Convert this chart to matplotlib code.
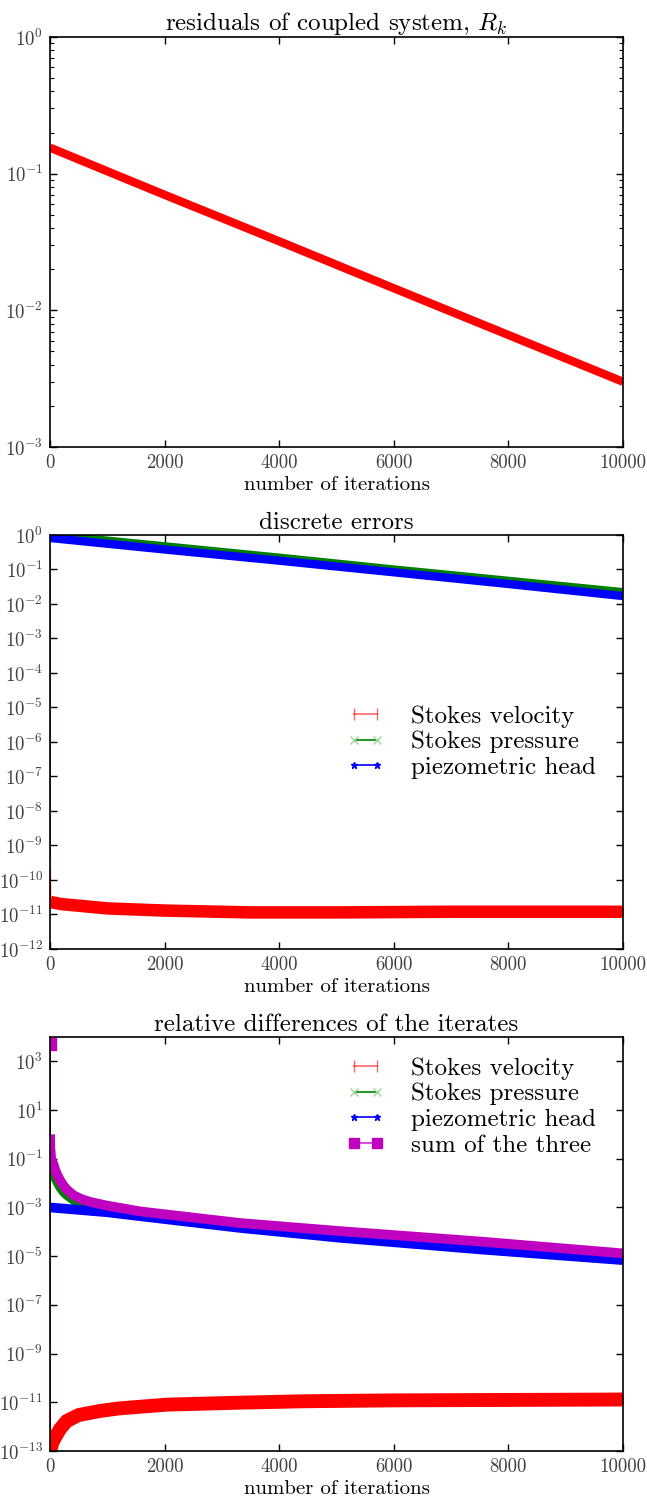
import matplotlib
matplotlib.use("Agg")
import matplotlib.pyplot as plt
from matplotlib.lines import Line2D
from matplotlib.ticker import LogLocator

plt.rcParams['font.family'] = 'serif'
plt.rcParams['font.serif'] = ['cmr10']
plt.rcParams['mathtext.fontset'] = 'cm'
plt.rcParams['axes.formatter.use_mathtext'] = True
plt.rcParams['axes.unicode_minus'] = False

# ---------------- data ----------------
iter_ticks = [0, 2000, 4000, 6000, 8000, 10000]

# panel 1: residuals of coupled system
res_x = [0, 2000, 4000, 6000, 8000, 10000]
res_val = [0.155, 0.070, 0.032, 0.0145, 0.0066, 0.0030]

# panel 2: discrete errors
err_vel_x = [0, 1, 2, 3, 5, 10, 200, 500, 1000, 2000, 3500, 5000, 7000, 10000]
err_vel = [0.3, 1e-2, 1e-5, 1e-8, 3e-10, 2.3e-11, 2.0e-11, 1.8e-11, 1.5e-11,
           1.3e-11, 1.15e-11, 1.15e-11, 1.2e-11, 1.2e-11]
err_x = [0, 2000, 4000, 6000, 8000, 10000]
err_pres = [1.0, 0.47, 0.22, 0.10, 0.047, 0.022]
err_head = [0.82, 0.38, 0.18, 0.083, 0.038, 0.017]

# panel 3: relative differences of the iterates
dif_vel_x = [0, 1, 2, 3, 5, 40, 100, 175, 291, 500, 873, 1200, 2037, 3200,
             4400, 6000, 8000, 10000]
dif_vel = [5e3, 1e-1, 1e-5, 1e-9, 1e-13, 2.2e-13, 4.0e-13, 8.0e-13, 1.7e-12,
           3.0e-12, 4.4e-12, 5.6e-12, 8.0e-12, 9.5e-12, 1.1e-11, 1.2e-11,
           1.25e-11, 1.3e-11]
dif_x = [0, 1, 5, 20, 60, 100, 175, 233, 291, 407, 550, 698, 989, 1571, 3316,
         5061, 7504, 10000]
dif_sum = [5e3, 1.0, 0.3, 0.1, 0.06, 0.03, 1.3e-2, 8e-3, 5.5e-3, 3.2e-3, 2.2e-3,
           1.7e-3, 1.2e-3, 6.9e-4, 2.3e-4, 1.07e-4, 4.0e-5, 1.3e-5]
dif_pres = [3.0, 0.3, 0.1, 0.04, 0.03, 0.015, 7e-3, 4.5e-3, 3.3e-3, 2.1e-3,
            1.5e-3, 1.2e-3, 8.5e-4, 4.9e-4, 1.65e-4, 7.6e-5, 2.9e-5, 9.5e-6]
dif_head_x = [0, 989, 1571, 3316, 5061, 7504, 10000]
dif_head = [1.0e-3, 6.4e-4, 4.4e-4, 1.45e-4, 5.7e-5, 1.9e-5, 6.9e-6]

labels3 = ['Stokes velocity', 'Stokes pressure', 'piezometric head']
label_sum = 'sum of the three'

# ---------------- figure ----------------
W, H = 647, 1499
fig = plt.figure(figsize=(W / 100, H / 100), dpi=100)

def add_ax(top_px, bot_px, left_px=50, right_px=623):
    return fig.add_axes([left_px / W, 1 - bot_px / H, (right_px - left_px) / W,
                         (bot_px - top_px) / H])

ax1 = add_ax(37, 447)
ax2 = add_ax(535, 949)
ax3 = add_ax(1037, 1451)

def style(ax):
    ax.set_yscale('log')
    ax.set_xlim(0, 10000)
    ax.set_xticks(iter_ticks)
    ax.set_xticklabels([str(t) for t in iter_ticks])
    ax.tick_params(which='both', direction='in', top=True, right=True,
                   labelsize=13.5, labelcolor='0.25', pad=5)
    ax.tick_params(which='major', length=5, width=1)
    ax.tick_params(which='minor', length=3, width=0.8)
    ax.set_xlabel('number of iterations', fontsize=15, labelpad=3)
    for s in ax.spines.values():
        s.set_linewidth(1.2)

cR, cG, cB, cM = (1, 0, 0), (0, 0.5, 0), (0, 0, 1), (0.75, 0, 0.75)
pink = (1, 0.6, 0.6)

# panel 1
ax1.plot(res_x, res_val, color=cR, lw=6, solid_capstyle='butt')
style(ax1)
ax1.set_ylim(1e-3, 1)
ax1.set_title('residuals of coupled system, $R_k$', fontsize=18, pad=4)

# panel 2
ax2.plot(err_vel_x, err_vel, color=cR, lw=1, marker='|', ms=7, mec=pink)
ax2.plot(err_vel_x[5:], err_vel[5:], color=cR, lw=9, solid_capstyle='butt')
ax2.plot(err_x, err_pres, color=cG, lw=6, solid_capstyle='butt')
ax2.plot(err_x, err_head, color=cB, lw=6, solid_capstyle='butt')
style(ax2)
ax2.set_ylim(1e-12, 1)
ax2.yaxis.set_major_locator(LogLocator(base=10, numticks=20))
ax2.yaxis.set_minor_locator(LogLocator(base=10, subs=[], numticks=20))
ax2.set_title('discrete errors', fontsize=18, pad=4)

# panel 3
ax3.plot(dif_vel_x, dif_vel, color=cR, lw=1, marker='|', ms=7, mec=pink)
ax3.plot(dif_vel_x[4:], dif_vel[4:], color=cR, lw=10, solid_capstyle='butt')
ax3.plot(dif_x, dif_pres, color=cG, lw=1)
ax3.plot(dif_x[1:], dif_pres[1:], color=cG, lw=7, solid_capstyle='butt')
ax3.plot(dif_head_x, dif_head, color=cB, lw=7, solid_capstyle='butt')
ax3.plot(dif_x, dif_sum, color=cM, lw=1)
ax3.plot(dif_x[:1], dif_sum[:1], color=cM, marker='s', ms=8, ls='none')
ax3.plot(dif_x[1:], dif_sum[1:], color=cM, lw=7, solid_capstyle='butt')
style(ax3)
ax3.set_ylim(1e-13, 1e4)
ax3.set_title('relative differences of the iterates', fontsize=18, pad=4)

def handles(n):
    h = [Line2D([], [], color=cR, alpha=0.6, marker='|', ms=9, lw=1.2),
         Line2D([], [], color=cG, marker='x', ms=6, lw=1.2, mec=(0.6, 0.85, 0.6)),
         Line2D([], [], color=cB, marker='*', ms=5, lw=1.2),
         Line2D([], [], color=(0.85, 0.3, 0.85), marker='s', ms=7, lw=1.5, mfc=cM, mec=cM)]
    return h[:n]

leg_kw = dict(frameon=False, numpoints=2, fontsize=18, handlelength=1.5,
              handletextpad=1.05, labelspacing=0.13, borderpad=0, borderaxespad=0,
              loc='upper left')
ax2.legend(handles(3), labels3, bbox_to_anchor=(347 / W, 1 - 705 / H),
           bbox_transform=fig.transFigure, **leg_kw)
ax3.legend(handles(4), labels3 + [label_sum], bbox_to_anchor=(347 / W, 1 - 1057 / H),
           bbox_transform=fig.transFigure, **leg_kw)

fig.savefig('out.png', dpi=100)
